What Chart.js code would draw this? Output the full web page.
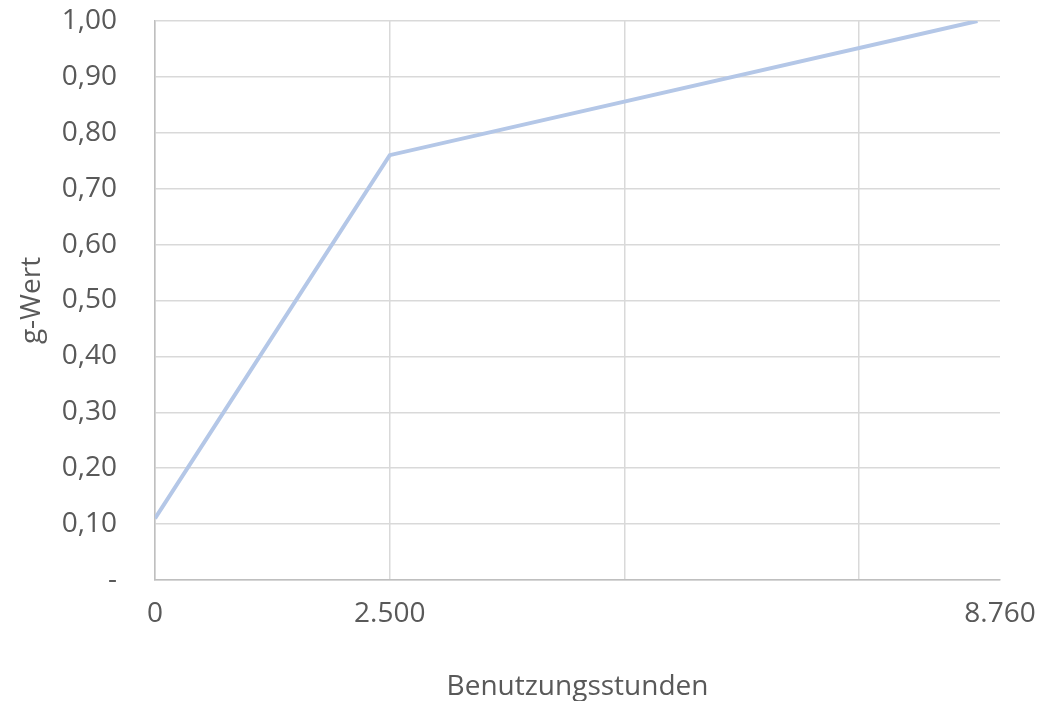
<!DOCTYPE html>
<html>
<head>
<meta charset="utf-8">
<script src="https://cdn.jsdelivr.net/npm/chart.js@4"></script>
<style>
  html, body { margin: 0; padding: 0; background: #ffffff; }
  #wrap { width: 1043px; height: 701px; }
</style>
</head>
<body>
<div id="wrap"><canvas id="gChart"></canvas></div>
<script>
// Benutzungsstunden -> g-Wert
const hours = [0, 2500, 8760];
const gValues = [0.11, 0.76, 1.00];

const xTickValues = [0, 2500, 5000, 7500, 9000];
const xTickLabels = ['0', '2.500', '', '', '8.760'];
const yTickLabels = ['-', '0,10', '0,20', '0,30', '0,40', '0,50', '0,60', '0,70', '0,80', '0,90', '1,00'];

const textColor = '#595959';
const fontFamily = '"Open Sans", "Noto Sans", sans-serif';

// keep the plot box where the reference has it
function noEdgePadding(scale) {
  scale.paddingTop = 0;
  scale.paddingBottom = 0;
  scale.paddingLeft = 0;
  scale.paddingRight = 0;
}

new Chart(document.getElementById('gChart'), {
  type: 'line',
  data: {
    datasets: [{
      label: 'g-Wert',
      data: hours.map((h, i) => ({ x: h, y: gValues[i] })),
      borderColor: '#b4c7e7',
      borderWidth: 4,
      pointRadius: 0,
      tension: 0,
      fill: false
    }]
  },
  options: {
    responsive: true,
    maintainAspectRatio: false,
    animation: false,
    layout: { padding: { top: 21, right: 43, left: 0, bottom: 0 } },
    plugins: {
      legend: { display: false },
      tooltip: { enabled: false }
    },
    scales: {
      x: {
        type: 'linear',
        min: 0,
        max: 9000,
        afterBuildTicks: (scale) => {
          scale.ticks = xTickValues.map(v => ({ value: v }));
        },
        afterFit: (scale) => { scale.height = 121; noEdgePadding(scale); },
        ticks: {
          autoSkip: false,
          maxRotation: 0,
          padding: 17,
          color: textColor,
          font: { family: fontFamily, size: 28 },
          callback: (value, index) => xTickLabels[index]
        },
        grid: {
          drawTicks: false,
          lineWidth: 1.5,
          color: (ctx) => (ctx.tick && ctx.tick.value === 9000) ? 'rgba(0,0,0,0)' : '#d9d9d9'
        },
        border: { color: '#bfbfbf', width: 1.5 },
        title: {
          display: true,
          text: 'Benutzungsstunden',
          color: textColor,
          font: { family: fontFamily, size: 28, lineHeight: 1 },
          padding: 0
        }
      },
      y: {
        min: 0,
        max: 1,
        afterFit: (scale) => { scale.width = 155; noEdgePadding(scale); },
        ticks: {
          stepSize: 0.1,
          padding: 38,
          color: textColor,
          font: { family: fontFamily, size: 28 },
          callback: (value, index) => yTickLabels[index]
        },
        grid: { drawTicks: false, lineWidth: 1.5, color: '#d9d9d9' },
        border: { color: '#bfbfbf', width: 1.5 },
        title: {
          display: true,
          text: 'g-Wert',
          color: textColor,
          font: { family: fontFamily, size: 28, lineHeight: 1 },
          padding: { top: 18, bottom: 0 }
        }
      }
    }
  }
});
</script>
</body>
</html>
